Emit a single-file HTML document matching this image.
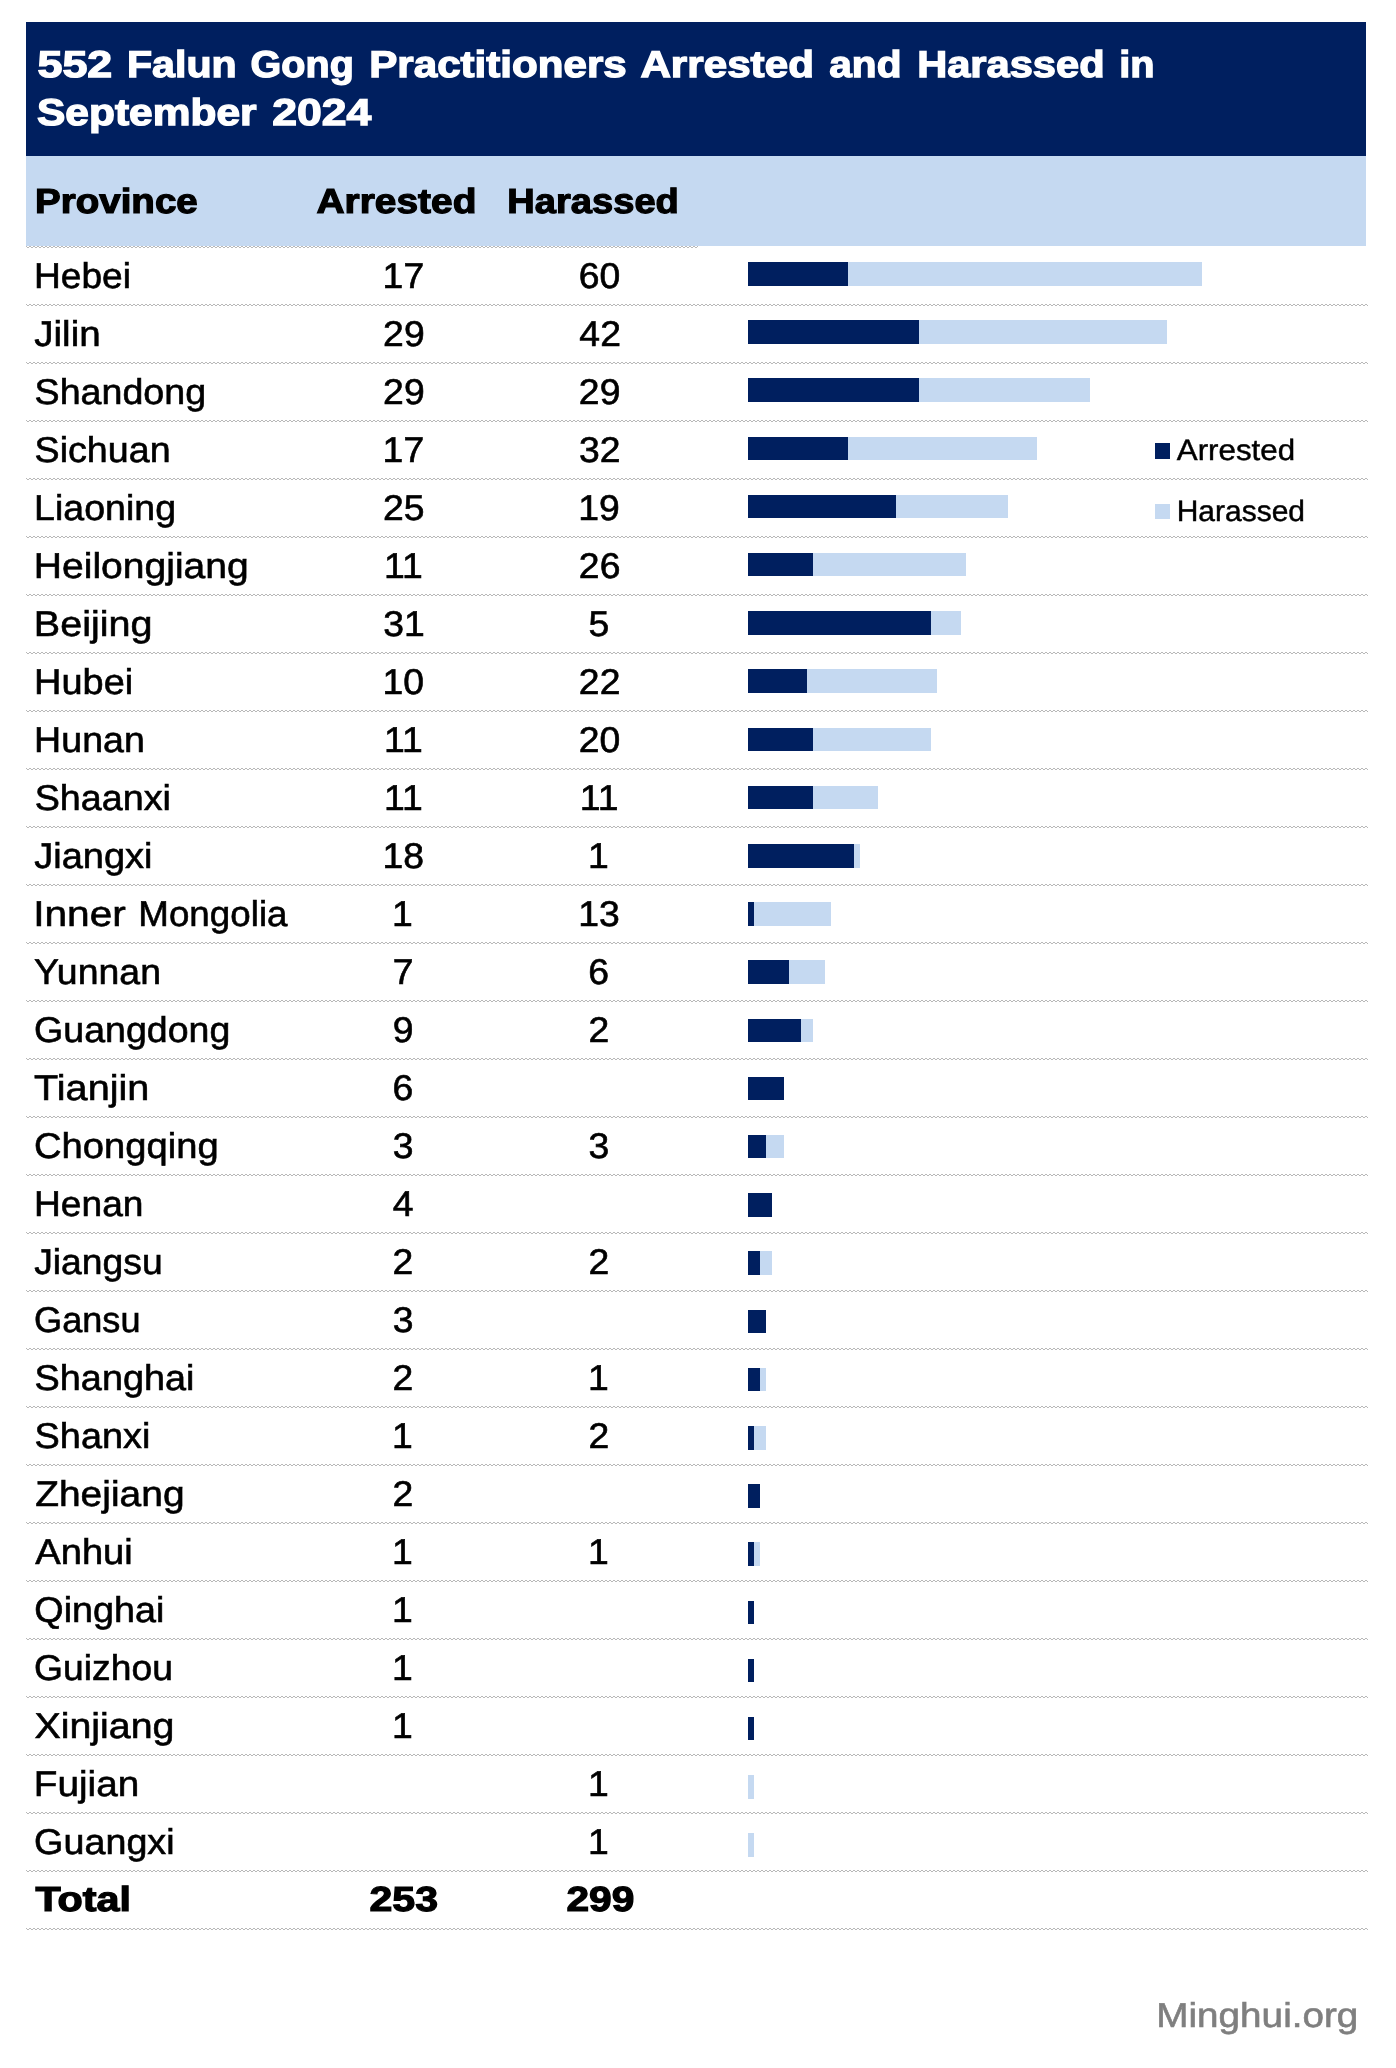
<!DOCTYPE html>
<html lang="en"><head><meta charset="utf-8">
<title>552 Falun Gong Practitioners Arrested and Harassed in September 2024</title>
<style>
html,body{margin:0;padding:0;background:#fff;}
body{width:1396px;height:2068px;position:relative;overflow:hidden;font-family:"Liberation Sans", sans-serif;}
#page{position:absolute;left:0;top:0;width:1396px;height:2068px;will-change:transform;background:#fff;}
.t{position:absolute;white-space:nowrap;line-height:1;transform-origin:0 0;}
.title{font-size:37.35px;font-weight:700;color:#fff;-webkit-text-stroke:1.3px #fff;}
.hdr{font-size:34.88px;font-weight:700;color:#000;-webkit-text-stroke:1.2px #000;}
.b{font-size:34.88px;font-weight:700;color:#000;-webkit-text-stroke:1.2px #000;}
.r{font-size:35.76px;font-weight:400;color:#000;-webkit-text-stroke:0.6px #000;}
.leg{font-size:29.43px;font-weight:400;color:#000;-webkit-text-stroke:0.45px #000;}
.wm{font-size:34.59px;font-weight:400;color:#7f7f7f;-webkit-text-stroke:0.6px #7f7f7f;}
.band{position:absolute;left:26px;width:1340px;}
#titleband{top:22px;height:134px;background:#001f5f;}
#hdrband{top:156px;height:90px;background:#c5d9f1;}
.ln{position:absolute;left:26px;width:1342px;height:2px;
 background-image:linear-gradient(90deg,#b8b8b8 0,#b8b8b8 2px,transparent 2px,transparent 4px),linear-gradient(90deg,#b8b8b8 0,#b8b8b8 2px,transparent 2px,transparent 4px);
 background-size:4px 1px,4px 1px;background-repeat:repeat-x,repeat-x;background-position:-1px 0,1px 1px;}
.bar{position:absolute;left:748px;height:24px;}
.ba{background:#001f5f;}
.bh{background:#c5d9f1;}
.sw{position:absolute;left:1155px;width:15px;}
</style></head><body><div id="page">
<div class="band" id="titleband"></div>
<div class="band" id="hdrband"></div>

<h1 style="margin:0;font:inherit"><span class="t title" style="left:37px;top:46px;transform:matrix(1.2015,0,0.0005,1,0.43,0)">552</span> <span class="t title" style="left:126px;top:46px;transform:matrix(1.1030,0,0.0005,1,0.95,0)">Falun</span> <span class="t title" style="left:250px;top:46px;transform:matrix(1.0590,0,0.0005,1,0.58,0)">Gong</span> <span class="t title" style="left:369px;top:46px;transform:matrix(1.1287,0,0.0005,1,0.21,0)">Practitioners</span> <span class="t title" style="left:640px;top:46px;transform:matrix(1.1303,0,0.0005,1,0.37,0)">Arrested</span> <span class="t title" style="left:829px;top:46px;transform:matrix(1.0881,0,0.0005,1,0.24,0)">and</span> <span class="t title" style="left:917px;top:46px;transform:matrix(1.1153,0,0.0005,1,0.13,0)">Harassed</span> <span class="t title" style="left:1119px;top:46px;transform:matrix(1.0656,0,0.0005,1,0.19,0)">in</span> <span class="t title" style="left:36px;top:94px;transform:matrix(1.1382,0,0.0005,1,0.97,0)">September</span> <span class="t title" style="left:272px;top:94px;transform:matrix(1.1939,0,0.0005,1,0.24,0)">2024</span></h1>
<div class="head"><span class="t hdr" style="left:34px;top:184px;transform:matrix(1.1050,0,0.0005,1,0.95,0)">Province</span><span class="t hdr" style="left:316px;top:184px;transform:matrix(1.1155,0,0.0005,1,0.44,0)">Arrested</span><span class="t hdr" style="left:507px;top:184px;transform:matrix(1.0922,0,0.0005,1,0.34,0)">Harassed</span></div>
<div class="ln" style="top:246px;width:672px"></div>
<div class="row"><span class="t r" style="left:33px;top:259px;transform:matrix(1.0389,0,0.0005,1,0.95,0)">Hebei</span> <span class="t r" style="left:382px;top:259px;transform:matrix(1.0450,0,0.0005,1,0.60,0)">17</span> <span class="t r" style="left:578px;top:259px;transform:matrix(1.0450,0,0.0005,1,0.76,0)">60</span>
<i class="bar bh" style="top:262px;height:24px;width:454px"></i>
<i class="bar ba" style="top:262px;height:24px;width:100px"></i>
<i class="ln" style="top:304px"></i></div>
<div class="row"><span class="t r" style="left:34px;top:317px;transform:matrix(1.0798,0,0.0005,1,0.18,0)">Jilin</span> <span class="t r" style="left:383px;top:317px;transform:matrix(1.0450,0,0.0005,1,0.10,0)">29</span> <span class="t r" style="left:579px;top:317px;transform:matrix(1.0450,0,0.0005,1,0.35,0)">42</span>
<i class="bar bh" style="top:320px;height:24px;width:419px"></i>
<i class="bar ba" style="top:320px;height:24px;width:171px"></i>
<i class="ln" style="top:362px"></i></div>
<div class="row"><span class="t r" style="left:34px;top:375px;transform:matrix(1.0523,0,0.0005,1,0.56,0)">Shandong</span> <span class="t r" style="left:383px;top:375px;transform:matrix(1.0450,0,0.0005,1,0.10,0)">29</span> <span class="t r" style="left:578px;top:375px;transform:matrix(1.0450,0,0.0005,1,0.85,0)">29</span>
<i class="bar bh" style="top:378px;height:24px;width:342px"></i>
<i class="bar ba" style="top:378px;height:24px;width:171px"></i>
<i class="ln" style="top:420px"></i></div>
<div class="row"><span class="t r" style="left:34px;top:433px;transform:matrix(1.0528,0,0.0005,1,0.56,0)">Sichuan</span> <span class="t r" style="left:382px;top:433px;transform:matrix(1.0450,0,0.0005,1,0.60,0)">17</span> <span class="t r" style="left:578px;top:433px;transform:matrix(1.0450,0,0.0005,1,0.93,0)">32</span>
<i class="bar bh" style="top:437px;height:23px;width:289px"></i>
<i class="bar ba" style="top:437px;height:23px;width:100px"></i>
<i class="ln" style="top:478px"></i></div>
<div class="row"><span class="t r" style="left:34px;top:491px;transform:matrix(1.0500,0,0.0005,1,0.09,0)">Liaoning</span> <span class="t r" style="left:383px;top:491px;transform:matrix(1.0450,0,0.0005,1,0.06,0)">25</span> <span class="t r" style="left:578px;top:491px;transform:matrix(1.0450,0,0.0005,1,0.24,0)">19</span>
<i class="bar bh" style="top:495px;height:23px;width:260px"></i>
<i class="bar ba" style="top:495px;height:23px;width:148px"></i>
<i class="ln" style="top:536px"></i></div>
<div class="row"><span class="t r" style="left:33px;top:549px;transform:matrix(1.0925,0,0.0005,1,0.80,0)">Heilongjiang</span> <span class="t r" style="left:383px;top:549px;transform:matrix(1.0450,0,0.0005,1,0.93,0)">11</span> <span class="t r" style="left:578px;top:549px;transform:matrix(1.0450,0,0.0005,1,0.85,0)">26</span>
<i class="bar bh" style="top:553px;height:23px;width:218px"></i>
<i class="bar ba" style="top:553px;height:23px;width:65px"></i>
<i class="ln" style="top:594px"></i></div>
<div class="row"><span class="t r" style="left:33px;top:607px;transform:matrix(1.1071,0,0.0005,1,0.76,0)">Beijing</span> <span class="t r" style="left:383px;top:607px;transform:matrix(1.0450,0,0.0005,1,0.18,0)">31</span> <span class="t r" style="left:588px;top:607px;transform:matrix(1.0450,0,0.0005,1,0.45,0)">5</span>
<i class="bar bh" style="top:611px;height:24px;width:213px"></i>
<i class="bar ba" style="top:611px;height:24px;width:183px"></i>
<i class="ln" style="top:652px"></i></div>
<div class="row"><span class="t r" style="left:34px;top:665px;transform:matrix(1.0611,0,0.0005,1,0.06,0)">Hubei</span> <span class="t r" style="left:382px;top:665px;transform:matrix(1.0450,0,0.0005,1,0.54,0)">10</span> <span class="t r" style="left:578px;top:665px;transform:matrix(1.0450,0,0.0005,1,0.86,0)">22</span>
<i class="bar bh" style="top:669px;height:24px;width:189px"></i>
<i class="bar ba" style="top:669px;height:24px;width:59px"></i>
<i class="ln" style="top:710px"></i></div>
<div class="row"><span class="t r" style="left:34px;top:723px;transform:matrix(1.0512,0,0.0005,1,0.09,0)">Hunan</span> <span class="t r" style="left:383px;top:723px;transform:matrix(1.0450,0,0.0005,1,0.93,0)">11</span> <span class="t r" style="left:578px;top:723px;transform:matrix(1.0450,0,0.0005,1,0.76,0)">20</span>
<i class="bar bh" style="top:728px;height:23px;width:183px"></i>
<i class="bar ba" style="top:728px;height:23px;width:65px"></i>
<i class="ln" style="top:768px"></i></div>
<div class="row"><span class="t r" style="left:34px;top:781px;transform:matrix(1.0542,0,0.0005,1,0.67,0)">Shaanxi</span> <span class="t r" style="left:383px;top:781px;transform:matrix(1.0450,0,0.0005,1,0.93,0)">11</span> <span class="t r" style="left:579px;top:781px;transform:matrix(1.0450,0,0.0005,1,0.63,0)">11</span>
<i class="bar bh" style="top:786px;height:23px;width:130px"></i>
<i class="bar ba" style="top:786px;height:23px;width:65px"></i>
<i class="ln" style="top:826px"></i></div>
<div class="row"><span class="t r" style="left:34px;top:839px;transform:matrix(1.0637,0,0.0005,1,0.18,0)">Jiangxi</span> <span class="t r" style="left:382px;top:839px;transform:matrix(1.0450,0,0.0005,1,0.54,0)">18</span> <span class="t r" style="left:587px;top:839px;transform:matrix(1.0450,0,0.0005,1,0.93,0)">1</span>
<i class="bar bh" style="top:844px;height:24px;width:112px"></i>
<i class="bar ba" style="top:844px;height:24px;width:106px"></i>
<i class="ln" style="top:884px"></i></div>
<div class="row"><span class="t r" style="left:33px;top:897px;transform:matrix(1.1384,0,0.0005,1,0.14,0)">Inner</span> <span class="t r" style="left:138px;top:897px;transform:matrix(1.0288,0,0.0005,1,0.24,0)">Mongolia</span> <span class="t r" style="left:392px;top:897px;transform:matrix(1.0450,0,0.0005,1,0.03,0)">1</span> <span class="t r" style="left:578px;top:897px;transform:matrix(1.0450,0,0.0005,1,0.24,0)">13</span>
<i class="bar bh" style="top:902px;height:24px;width:83px"></i>
<i class="bar ba" style="top:902px;height:24px;width:6px"></i>
<i class="ln" style="top:942px"></i></div>
<div class="row"><span class="t r" style="left:33px;top:955px;transform:matrix(1.0477,0,0.0005,1,0.91,0)">Yunnan</span> <span class="t r" style="left:392px;top:955px;transform:matrix(1.0450,0,0.0005,1,0.68,0)">7</span> <span class="t r" style="left:588px;top:955px;transform:matrix(1.0450,0,0.0005,1,0.35,0)">6</span>
<i class="bar bh" style="top:960px;height:24px;width:77px"></i>
<i class="bar ba" style="top:960px;height:24px;width:41px"></i>
<i class="ln" style="top:1000px"></i></div>
<div class="row"><span class="t r" style="left:34px;top:1013px;transform:matrix(1.0497,0,0.0005,1,0.11,0)">Guangdong</span> <span class="t r" style="left:392px;top:1013px;transform:matrix(1.0450,0,0.0005,1,0.67,0)">9</span> <span class="t r" style="left:588px;top:1013px;transform:matrix(1.0450,0,0.0005,1,0.45,0)">2</span>
<i class="bar bh" style="top:1019px;height:23px;width:65px"></i>
<i class="bar ba" style="top:1019px;height:23px;width:53px"></i>
<i class="ln" style="top:1058px"></i></div>
<div class="row"><span class="t r" style="left:34px;top:1071px;transform:matrix(1.1096,0,0.0005,1,0.03,0)">Tianjin</span> <span class="t r" style="left:392px;top:1071px;transform:matrix(1.0450,0,0.0005,1,0.55,0)">6</span>
<i class="bar ba" style="top:1077px;height:23px;width:36px"></i>
<i class="ln" style="top:1116px"></i></div>
<div class="row"><span class="t r" style="left:33px;top:1129px;transform:matrix(1.0677,0,0.0005,1,0.98,0)">Chongqing</span> <span class="t r" style="left:392px;top:1129px;transform:matrix(1.0450,0,0.0005,1,0.70,0)">3</span> <span class="t r" style="left:588px;top:1129px;transform:matrix(1.0450,0,0.0005,1,0.45,0)">3</span>
<i class="bar bh" style="top:1135px;height:23px;width:36px"></i>
<i class="bar ba" style="top:1135px;height:23px;width:18px"></i>
<i class="ln" style="top:1174px"></i></div>
<div class="row"><span class="t r" style="left:33px;top:1187px;transform:matrix(1.0394,0,0.0005,1,0.97,0)">Henan</span> <span class="t r" style="left:392px;top:1187px;transform:matrix(1.0450,0,0.0005,1,0.71,0)">4</span>
<i class="bar ba" style="top:1193px;height:24px;width:24px"></i>
<i class="ln" style="top:1232px"></i></div>
<div class="row"><span class="t r" style="left:34px;top:1245px;transform:matrix(1.0426,0,0.0005,1,0.19,0)">Jiangsu</span> <span class="t r" style="left:392px;top:1245px;transform:matrix(1.0450,0,0.0005,1,0.55,0)">2</span> <span class="t r" style="left:588px;top:1245px;transform:matrix(1.0450,0,0.0005,1,0.45,0)">2</span>
<i class="bar bh" style="top:1251px;height:24px;width:24px"></i>
<i class="bar ba" style="top:1251px;height:24px;width:12px"></i>
<i class="ln" style="top:1290px"></i></div>
<div class="row"><span class="t r" style="left:34px;top:1303px;transform:matrix(1.0109,0,0.0005,1,0.05,0)">Gansu</span> <span class="t r" style="left:392px;top:1303px;transform:matrix(1.0450,0,0.0005,1,0.70,0)">3</span>
<i class="bar ba" style="top:1310px;height:23px;width:18px"></i>
<i class="ln" style="top:1348px"></i></div>
<div class="row"><span class="t r" style="left:34px;top:1361px;transform:matrix(1.0586,0,0.0005,1,0.54,0)">Shanghai</span> <span class="t r" style="left:392px;top:1361px;transform:matrix(1.0450,0,0.0005,1,0.55,0)">2</span> <span class="t r" style="left:587px;top:1361px;transform:matrix(1.0450,0,0.0005,1,0.93,0)">1</span>
<i class="bar bh" style="top:1368px;height:23px;width:18px"></i>
<i class="bar ba" style="top:1368px;height:23px;width:12px"></i>
<i class="ln" style="top:1406px"></i></div>
<div class="row"><span class="t r" style="left:34px;top:1419px;transform:matrix(1.0596,0,0.0005,1,0.54,0)">Shanxi</span> <span class="t r" style="left:392px;top:1419px;transform:matrix(1.0450,0,0.0005,1,0.03,0)">1</span> <span class="t r" style="left:588px;top:1419px;transform:matrix(1.0450,0,0.0005,1,0.45,0)">2</span>
<i class="bar bh" style="top:1426px;height:24px;width:18px"></i>
<i class="bar ba" style="top:1426px;height:24px;width:6px"></i>
<i class="ln" style="top:1464px"></i></div>
<div class="row"><span class="t r" style="left:35px;top:1477px;transform:matrix(1.0895,0,0.0005,1,0.15,0)">Zhejiang</span> <span class="t r" style="left:392px;top:1477px;transform:matrix(1.0450,0,0.0005,1,0.55,0)">2</span>
<i class="bar ba" style="top:1484px;height:24px;width:12px"></i>
<i class="ln" style="top:1522px"></i></div>
<div class="row"><span class="t r" style="left:35px;top:1535px;transform:matrix(1.0661,0,0.0005,1,0.29,0)">Anhui</span> <span class="t r" style="left:392px;top:1535px;transform:matrix(1.0450,0,0.0005,1,0.03,0)">1</span> <span class="t r" style="left:587px;top:1535px;transform:matrix(1.0450,0,0.0005,1,0.93,0)">1</span>
<i class="bar bh" style="top:1542px;height:24px;width:12px"></i>
<i class="bar ba" style="top:1542px;height:24px;width:6px"></i>
<i class="ln" style="top:1580px"></i></div>
<div class="row"><span class="t r" style="left:34px;top:1593px;transform:matrix(1.0557,0,0.0005,1,0.28,0)">Qinghai</span> <span class="t r" style="left:392px;top:1593px;transform:matrix(1.0450,0,0.0005,1,0.03,0)">1</span>
<i class="bar ba" style="top:1601px;height:23px;width:6px"></i>
<i class="ln" style="top:1638px"></i></div>
<div class="row"><span class="t r" style="left:34px;top:1651px;transform:matrix(1.0424,0,0.0005,1,0.05,0)">Guizhou</span> <span class="t r" style="left:392px;top:1651px;transform:matrix(1.0450,0,0.0005,1,0.03,0)">1</span>
<i class="bar ba" style="top:1659px;height:23px;width:6px"></i>
<i class="ln" style="top:1696px"></i></div>
<div class="row"><span class="t r" style="left:34px;top:1709px;transform:matrix(1.1011,0,0.0005,1,0.37,0)">Xinjiang</span> <span class="t r" style="left:392px;top:1709px;transform:matrix(1.0450,0,0.0005,1,0.03,0)">1</span>
<i class="bar ba" style="top:1717px;height:23px;width:6px"></i>
<i class="ln" style="top:1754px"></i></div>
<div class="row"><span class="t r" style="left:33px;top:1767px;transform:matrix(1.0828,0,0.0005,1,0.80,0)">Fujian</span> <span class="t r" style="left:587px;top:1767px;transform:matrix(1.0450,0,0.0005,1,0.93,0)">1</span>
<i class="bar bh" style="top:1775px;height:24px;width:6px"></i>
<i class="ln" style="top:1812px"></i></div>
<div class="row"><span class="t r" style="left:34px;top:1825px;transform:matrix(1.0549,0,0.0005,1,0.11,0)">Guangxi</span> <span class="t r" style="left:587px;top:1825px;transform:matrix(1.0450,0,0.0005,1,0.93,0)">1</span>
<i class="bar bh" style="top:1833px;height:24px;width:6px"></i>
<i class="ln" style="top:1870px"></i></div>
<div class="row total"><span class="t b" style="left:35px;top:1882px;transform:matrix(1.1842,0,0.0005,1,0.38,0)">Total</span><span class="t b" style="left:369px;top:1882px;transform:matrix(1.1787,0,0.0005,1,0.46,0)">253</span><span class="t b" style="left:566px;top:1882px;transform:matrix(1.1658,0,0.0005,1,0.48,0)">299</span><i class="ln" style="top:1928px"></i></div>
<div class="legend"><i class="sw" style="top:443px;height:16px;background:#001f5f"></i><span class="t leg" style="left:1176px;top:435px;transform:matrix(1.0637,0,0.0005,1,0.78,0)">Arrested</span><i class="sw" style="top:504px;height:15px;background:#c5d9f1"></i><span class="t leg" style="left:1176px;top:496px;transform:matrix(1.0191,0,0.0005,1,0.68,0)">Harassed</span></div>
<div class="t wm" style="left:1156px;top:1998px;transform:matrix(1.1184,0,0.0005,1,0.28,0)">Minghui.org</div>
</div></body></html>
